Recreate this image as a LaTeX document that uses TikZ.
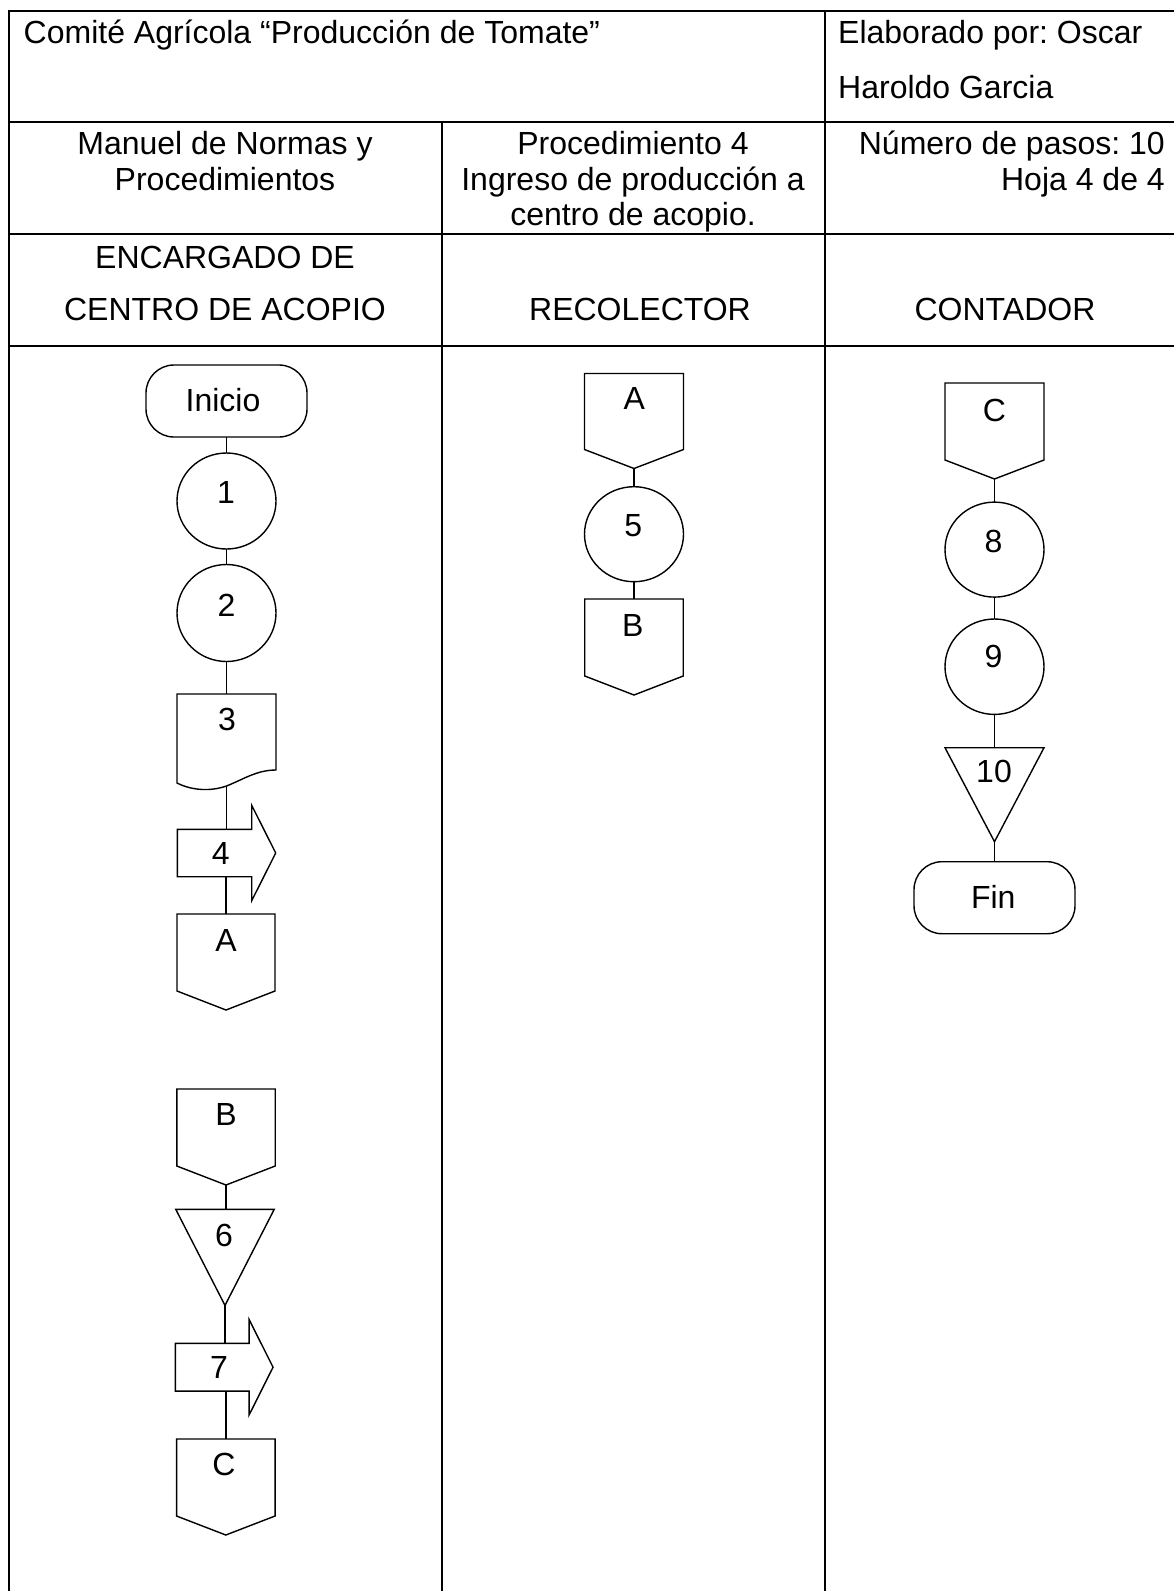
\documentclass[tikz,border=0pt]{standalone}
\usepackage{fontspec}
\setmainfont{Liberation Sans}
\usetikzlibrary{shapes.geometric,calc}
\frenchspacing
\newcommand\flOff[1]{\draw[shp] (#1.north west) -- (#1.north east) -- ([yshift=19pt]#1.south east) -- (#1.south) -- ([yshift=19pt]#1.south west) -- cycle;}
\newcommand\flTri[1]{\draw[shp] (#1.north west) -- (#1.north east) -- (#1.south) -- cycle;}
\newcommand\flArrow[1]{\draw[shp] (#1.north west) -- (#1.north east) -- ([yshift=24pt]#1.north east) -- ([xshift=24pt]#1.east) -- ([yshift=-24pt]#1.south east) -- (#1.south east) -- (#1.south west) -- cycle;}
\newcommand\flDoc[1]{\draw[shp] ($(#1.south west)+(0,-3)$) -- (#1.north west) -- (#1.north east) -- ($(#1.south east)+(0,-16)$) .. controls ($(#1.south east)+(-19,-16)$) and ($(#1.south)+(17.5,-7)$) .. (#1.south) .. controls ($(#1.south)+(-17.5,6)$) and ($(#1.south west)+(14,4)$) .. ($(#1.south west)+(0,-3)$) -- cycle;}
\begin{document}
\begin{tikzpicture}[x=1pt,y=-1pt,
  tbl/.style={line width=2.2pt, line cap=rect},
  shp/.style={draw=black, line width=1.4pt},
  bx/.style 2 args={rectangle, draw=none, inner sep=0pt, outer sep=0pt, minimum width=#1, minimum height=#2},
  circ/.style 2 args={ellipse, shp, inner sep=0pt, outer sep=0pt, minimum width=#1, minimum height=#2},
  term/.style={rectangle, shp, rounded corners=28pt, inner sep=0pt, outer sep=0pt, minimum width=161, minimum height=72},
  txt/.style={anchor=base, inner sep=0pt, font=\fontsize{32}{38}\selectfont},
  txtl/.style={txt, anchor=base west},
  txtr/.style={txt, anchor=base east},
  link/.style={line width=1.4pt}
]
\fill[white] (0,0) rectangle (1174,1591);
\useasboundingbox (0,0) rectangle (1174,1591);

% table
\draw[tbl] (1190,11) -- (9,11) -- (9,1600);
\draw[tbl] (9,122) -- (1190,122);
\draw[tbl] (9,234) -- (1190,234);
\draw[tbl] (9,346) -- (1190,346);
\draw[tbl] (825,11) -- (825,1600);
\draw[tbl] (442,122) -- (442,1600);

% header texts
\node[txtl] (h1) at (23.5,43.5) {Comité Agrícola “Producción de Tomate”};
\node[txtl] (h2) at (838,43.5) {Elaborado por: Oscar};
\node[txtl] (h3) at (838,98.5) {Haroldo Garcia};
\node[txt] (h4) at (225,154.5) {Manuel de Normas y};
\node[txt] (h5) at (225,190.5) {Procedimientos};
\node[txt] (h6) at (633,154.5) {Procedimiento 4};
\node[txt] (h7) at (633,190.5) {Ingreso de producción a};
\node[txt] (h8) at (633,225.5) {centro de acopio.};
\node[txtr] (h9) at (1165,154.5) {Número de pasos: 10};
\node[txtr] (h10) at (1165,190.5) {Hoja 4 de 4};
\node[txt] (h11) at (225,268.5) {ENCARGADO DE};
\node[txt] (h12) at (225,320.5) {CENTRO DE ACOPIO};
\node[txt] (h13) at (640,320.5) {RECOLECTOR};
\node[txt] (h14) at (1005,320.5) {CONTADOR};

% left column shapes
\node[term] (ini) at (226.5,401) {};
\node[circ={99}{96}] (c1) at (226.5,501) {};
\node[circ={99}{97}] (c2) at (226.5,613) {};
\node[bx={99}{92}] (d3) at (226.5,740) {};
\node[bx={74.4}{47.4}] (a4) at (214.5,853) {};
\node[bx={98}{96}] (cA) at (226,962) {};
\node[bx={98.4}{96}] (cB) at (226,1137) {};
\node[bx={98.4}{96}] (t6) at (225,1257.4) {};
\node[bx={73.7}{47.7}] (a7) at (212.2,1367.2) {};
\node[bx={98.5}{96}] (cC) at (225.8,1487) {};

% middle column shapes
\node[bx={99}{95}] (mA) at (634,421) {};
\node[circ={99}{95}] (c5) at (634,534.2) {};
\node[bx={98.5}{96}] (mB) at (634,647) {};

% right column shapes
\node[bx={99}{96}] (rC) at (994.5,431) {};
\node[circ={99}{95}] (c8) at (994.5,549.6) {};
\node[circ={99}{95.4}] (c9) at (994.5,666.7) {};
\node[bx={99}{94}] (t10) at (994.5,794.7) {};
\node[term] (fin) at (994.5,897.7) {};

% outlines
\flOff{cA} \flOff{cB} \flOff{cC} \flOff{mA} \flOff{mB} \flOff{rC}
\flTri{t6} \flTri{t10}
\flArrow{a4} \flArrow{a7}
\flDoc{d3}

% connectors
\draw[link] (ini) -- (c1);
\draw[link] (c1) -- (c2);
\draw[link] (c2) -- (d3);
\draw[link] (d3.south) -- (d3.south |- a4.north);
\draw[link] (a4.south -| cA.north) -- (cA.north);
\draw[link] (cB.south) -- (cB.south |- t6.north);
\draw[link] (t6.south) -- (t6.south |- a7.north);
\draw[link] (a7.south -| cC.north) -- (cC.north);
\draw[link] (mA.south) -- (c5.north);
\draw[link] (c5) -- (mB);
\draw[link] (rC.south) -- (c8.north);
\draw[link] (c8) -- (c9);
\draw[link] (c9.south) -- (t10.north);
\draw[link] (t10.south) -- (fin.north);

% shape labels
\node[txt] (tini) at (223,411.5) {Inicio};
\node[txt] (t1) at (226,503) {1};
\node[txt] (t2) at (226.5,616.5) {2};
\node[txt] (t3) at (227,730) {3};
\node[txt] (t4) at (220.7,864.5) {4};
\node[txt] (tA) at (226,951.5) {A};
\node[txt] (tB) at (226,1125) {B};
\node[txt] (t6l) at (224,1246) {6};
\node[txt] (t7) at (219,1378.5) {7};
\node[txt] (tC) at (224,1475.5) {C};
\node[txt] (tmA) at (634.3,409.5) {A};
\node[txt] (t5) at (633.3,536.5) {5};
\node[txt] (tmB) at (632.7,636.5) {B};
\node[txt] (trC) at (994.3,421.5) {C};
\node[txt] (t8) at (993.5,552.5) {8};
\node[txt] (t9) at (993.5,667.5) {9};
\node[txt] (t10l) at (994,782) {10};
\node[txt] (tfin) at (993.3,908) {Fin};
\end{tikzpicture}
\end{document}
